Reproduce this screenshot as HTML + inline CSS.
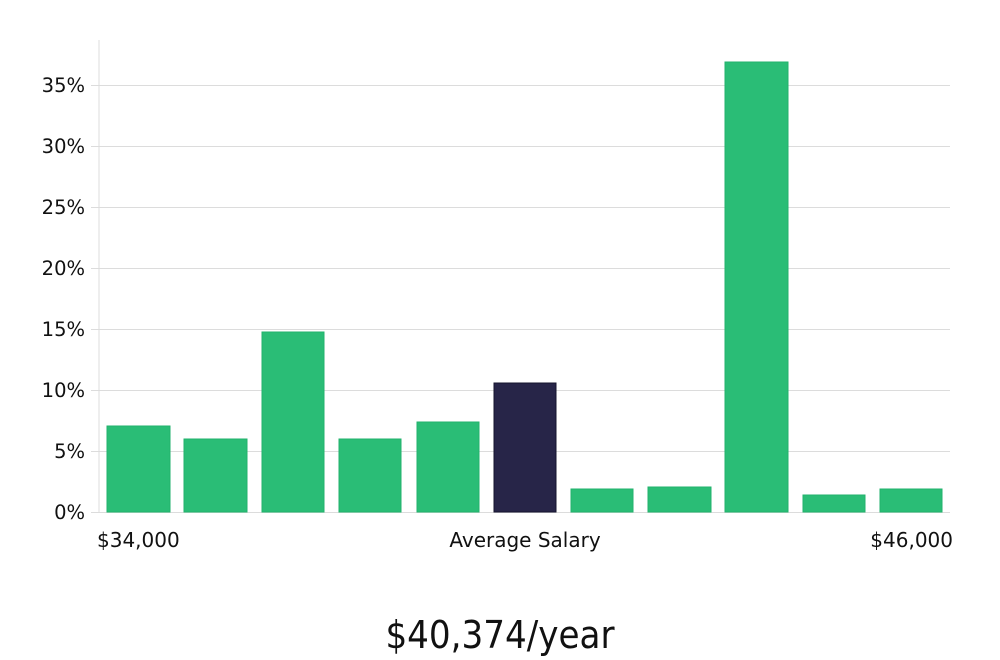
<!DOCTYPE html>
<html><head><style>body{margin:0;background:#fff}svg{display:block}</style></head><body>
<svg width="1000" height="660" xmlns="http://www.w3.org/2000/svg" font-family="DejaVu Sans, sans-serif">
<rect width="1000" height="660" fill="#fff"/>
<g stroke="#dcdcdc" stroke-width="1">
<line x1="99" y1="40" x2="99" y2="512"/>
<line x1="91" y1="512.5" x2="950" y2="512.5"/>
<line x1="91" y1="451.5" x2="950" y2="451.5"/>
<line x1="91" y1="390.5" x2="950" y2="390.5"/>
<line x1="91" y1="329.5" x2="950" y2="329.5"/>
<line x1="91" y1="268.5" x2="950" y2="268.5"/>
<line x1="91" y1="207.5" x2="950" y2="207.5"/>
<line x1="91" y1="146.5" x2="950" y2="146.5"/>
<line x1="91" y1="85.5" x2="950" y2="85.5"/>
</g>
<g font-size="19.5" fill="#111" text-anchor="end">
<text x="85" y="519">0%</text><text x="85" y="458">5%</text><text x="85" y="397">10%</text>
<text x="85" y="336">15%</text><text x="85" y="275">20%</text><text x="85" y="214">25%</text>
<text x="85" y="153">30%</text><text x="85" y="92">35%</text>
</g>
<g fill="#2abd76" stroke="#22b26c" stroke-width="1">
<rect x="107" y="426" width="63" height="86"/>
<rect x="184" y="439" width="63" height="73"/>
<rect x="262" y="332" width="62" height="180"/>
<rect x="339" y="439" width="62" height="73"/>
<rect x="417" y="422" width="62" height="90"/>
<rect x="494" y="383" width="62" height="129" fill="#272548" stroke="#15142e"/>
<rect x="571" y="489" width="62" height="23"/>
<rect x="648" y="487" width="63" height="25"/>
<rect x="725" y="62" width="63" height="450"/>
<rect x="803" y="495" width="62" height="17"/>
<rect x="880" y="489" width="62" height="23"/>
</g>
<g font-size="20" fill="#111">
<text x="97" y="547">$34,000</text>
<text x="525" y="547" text-anchor="middle">Average Salary</text>
<text x="953" y="547" text-anchor="end">$46,000</text>
</g>
<text x="500" y="648" text-anchor="middle" font-size="38" fill="#111" style="font-stretch:condensed" font-family="DejaVu Sans Condensed, DejaVu Sans, sans-serif">$40,374/year</text>
</svg>
</body></html>
